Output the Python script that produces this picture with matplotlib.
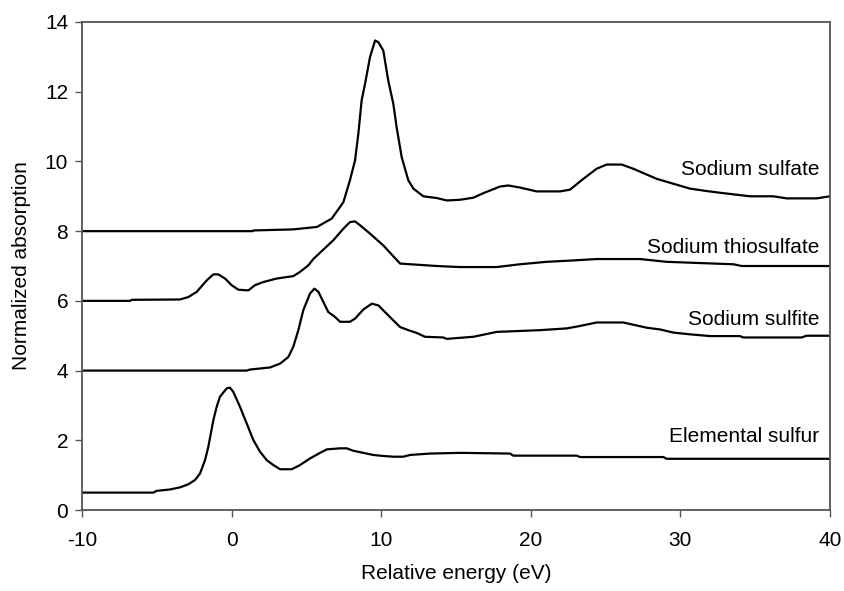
import matplotlib
matplotlib.use('Agg')
import matplotlib.pyplot as plt

plt.rcParams['font.family'] = ['Liberation Sans', 'DejaVu Sans']
plt.rcParams['axes.unicode_minus'] = False

# curves (relative energy in eV, normalized absorption)
sulfate_x = [-10, 1.4, 1.45, 4.1, 5.7, 6.69, 7.47, 7.91, 8.25, 8.47, 8.69, 8.92, 9.25, 9.59, 9.81,
             10.14, 10.47, 10.81, 11.03, 11.37, 11.81, 12.15, 12.81, 13.71, 14.38, 15.27, 16.16,
             16.83, 17.94, 18.5, 19.28, 20.39, 21.95, 22.62, 23.51, 24.4, 25.07, 26.08, 26.85,
             28.42, 29.53, 30.64, 31.76, 32.87, 34.65, 36.21, 37.1, 39.11, 40]
sulfate_y = [8.0, 8.0, 8.02, 8.05, 8.12, 8.36, 8.83, 9.46, 10.03, 10.79, 11.75, 12.23, 12.99, 13.47,
             13.42, 13.18, 12.32, 11.65, 10.98, 10.12, 9.46, 9.22, 9.0, 8.95, 8.88, 8.90, 8.96,
             9.09, 9.28, 9.31, 9.25, 9.14, 9.14, 9.19, 9.50, 9.79, 9.91, 9.91, 9.79, 9.50, 9.36,
             9.22, 9.15, 9.09, 9.0, 9.0, 8.94, 8.94, 9.0]

thio_x = [-10, -6.79, -6.68, -3.45, -2.89, -2.33, -1.66, -1.22, -0.89, -0.44, 0.0, 0.45, 1.12,
          1.56, 2.12, 3.01, 4.12, 4.57, 5.13, 5.46, 6.8, 7.47, 7.91, 8.25, 8.58, 9.25, 10.14,
          11.26, 13.71, 15.27, 17.72, 19.28, 21.06, 22.84, 24.4, 27.3, 29.08, 33.54, 34.1, 40]
thio_y = [6.0, 6.0, 6.03, 6.04, 6.11, 6.26, 6.59, 6.76, 6.76, 6.64, 6.45, 6.32, 6.30, 6.45, 6.54,
          6.64, 6.71, 6.83, 7.02, 7.2, 7.74, 8.07, 8.26, 8.28, 8.17, 7.93, 7.59, 7.07, 7.0, 6.97,
          6.97, 7.05, 7.12, 7.16, 7.2, 7.2, 7.12, 7.05, 7.0, 7.0]

sulfite_x = [-10, 1.01, 1.23, 2.57, 3.24, 3.79, 4.12, 4.46, 4.79, 5.24, 5.53, 5.80, 6.13, 6.46,
             6.91, 7.25, 7.91, 8.25, 8.80, 9.37, 9.81, 10.25, 10.81, 11.26, 11.81, 12.37, 12.93,
             14.15, 14.38, 16.16, 17.72, 20.61, 22.4, 23.29, 24.4, 26.18, 27.75, 28.64, 29.53,
             30.64, 31.98, 33.98, 34.2, 38.1, 38.44, 40]
sulfite_y = [4.0, 4.0, 4.03, 4.09, 4.20, 4.39, 4.68, 5.16, 5.73, 6.21, 6.35, 6.26, 5.97, 5.68,
             5.54, 5.40, 5.40, 5.49, 5.75, 5.92, 5.87, 5.68, 5.44, 5.25, 5.16, 5.08, 4.97, 4.95,
             4.91, 4.97, 5.11, 5.16, 5.21, 5.28, 5.38, 5.38, 5.23, 5.18, 5.09, 5.04, 4.99, 4.99,
             4.95, 4.95, 5.0, 5.0]

sulfur_x = [-10, -5.23, -5.01, -4.12, -3.45, -2.89, -2.45, -2.11, -1.78, -1.56, -1.22, -1.0,
            -0.78, -0.33, -0.11, 0.11, 0.56, 1.01, 1.45, 1.9, 2.35, 2.79, 3.24, 4.02, 4.57, 5.24,
            5.91, 6.36, 7.25, 7.69, 8.14, 8.8, 9.47, 10.14, 10.81, 11.48, 11.93, 13.26, 15.27,
            18.61, 18.83, 23.07, 23.29, 28.86, 29.08, 40]
sulfur_y = [0.5, 0.5, 0.55, 0.59, 0.65, 0.74, 0.86, 1.05, 1.43, 1.81, 2.58, 2.96, 3.25, 3.49,
            3.51, 3.39, 2.96, 2.48, 2.01, 1.67, 1.43, 1.29, 1.17, 1.17, 1.29, 1.48, 1.64, 1.74,
            1.77, 1.77, 1.70, 1.64, 1.58, 1.55, 1.53, 1.53, 1.58, 1.62, 1.64, 1.62, 1.56, 1.56,
            1.52, 1.52, 1.47, 1.47]

labels = ['Sodium sulfate', 'Sodium thiosulfate', 'Sodium sulfite', 'Elemental sulfur']
label_y = [9.77, 7.54, 5.46, 2.1]

fig = plt.figure(figsize=(8.44, 5.91), dpi=100)
ax = fig.add_axes([0.0972, 0.137, 0.8862, 0.8258])

series = [(sulfate_x, sulfate_y), (thio_x, thio_y), (sulfite_x, sulfite_y), (sulfur_x, sulfur_y)]
for (xs, ys), name, ly in zip(series, labels, label_y):
    ax.plot(xs, ys, color='black', lw=1.6)
    ax.text(39.3, ly, name, ha='right', va='center', fontsize=15)

ax.set_xlim(-10, 40)
ax.set_ylim(0, 14)
ax.set_xticks(range(-10, 41, 10))
ax.set_yticks(range(0, 15, 2))
ax.tick_params(labelsize=15, length=5, width=1, color='#555555', direction='out')
ax.tick_params(axis='x', pad=10)
ax.tick_params(axis='y', pad=5)
for s in ax.spines.values():
    s.set_color('#555555')
    s.set_linewidth(1.3)

ax.set_xlabel('Relative energy (eV)', fontsize=15, labelpad=10)
ax.set_ylabel('Normalized absorption', fontsize=15, labelpad=10)

fig.savefig('out.png', dpi=100, facecolor='white')
